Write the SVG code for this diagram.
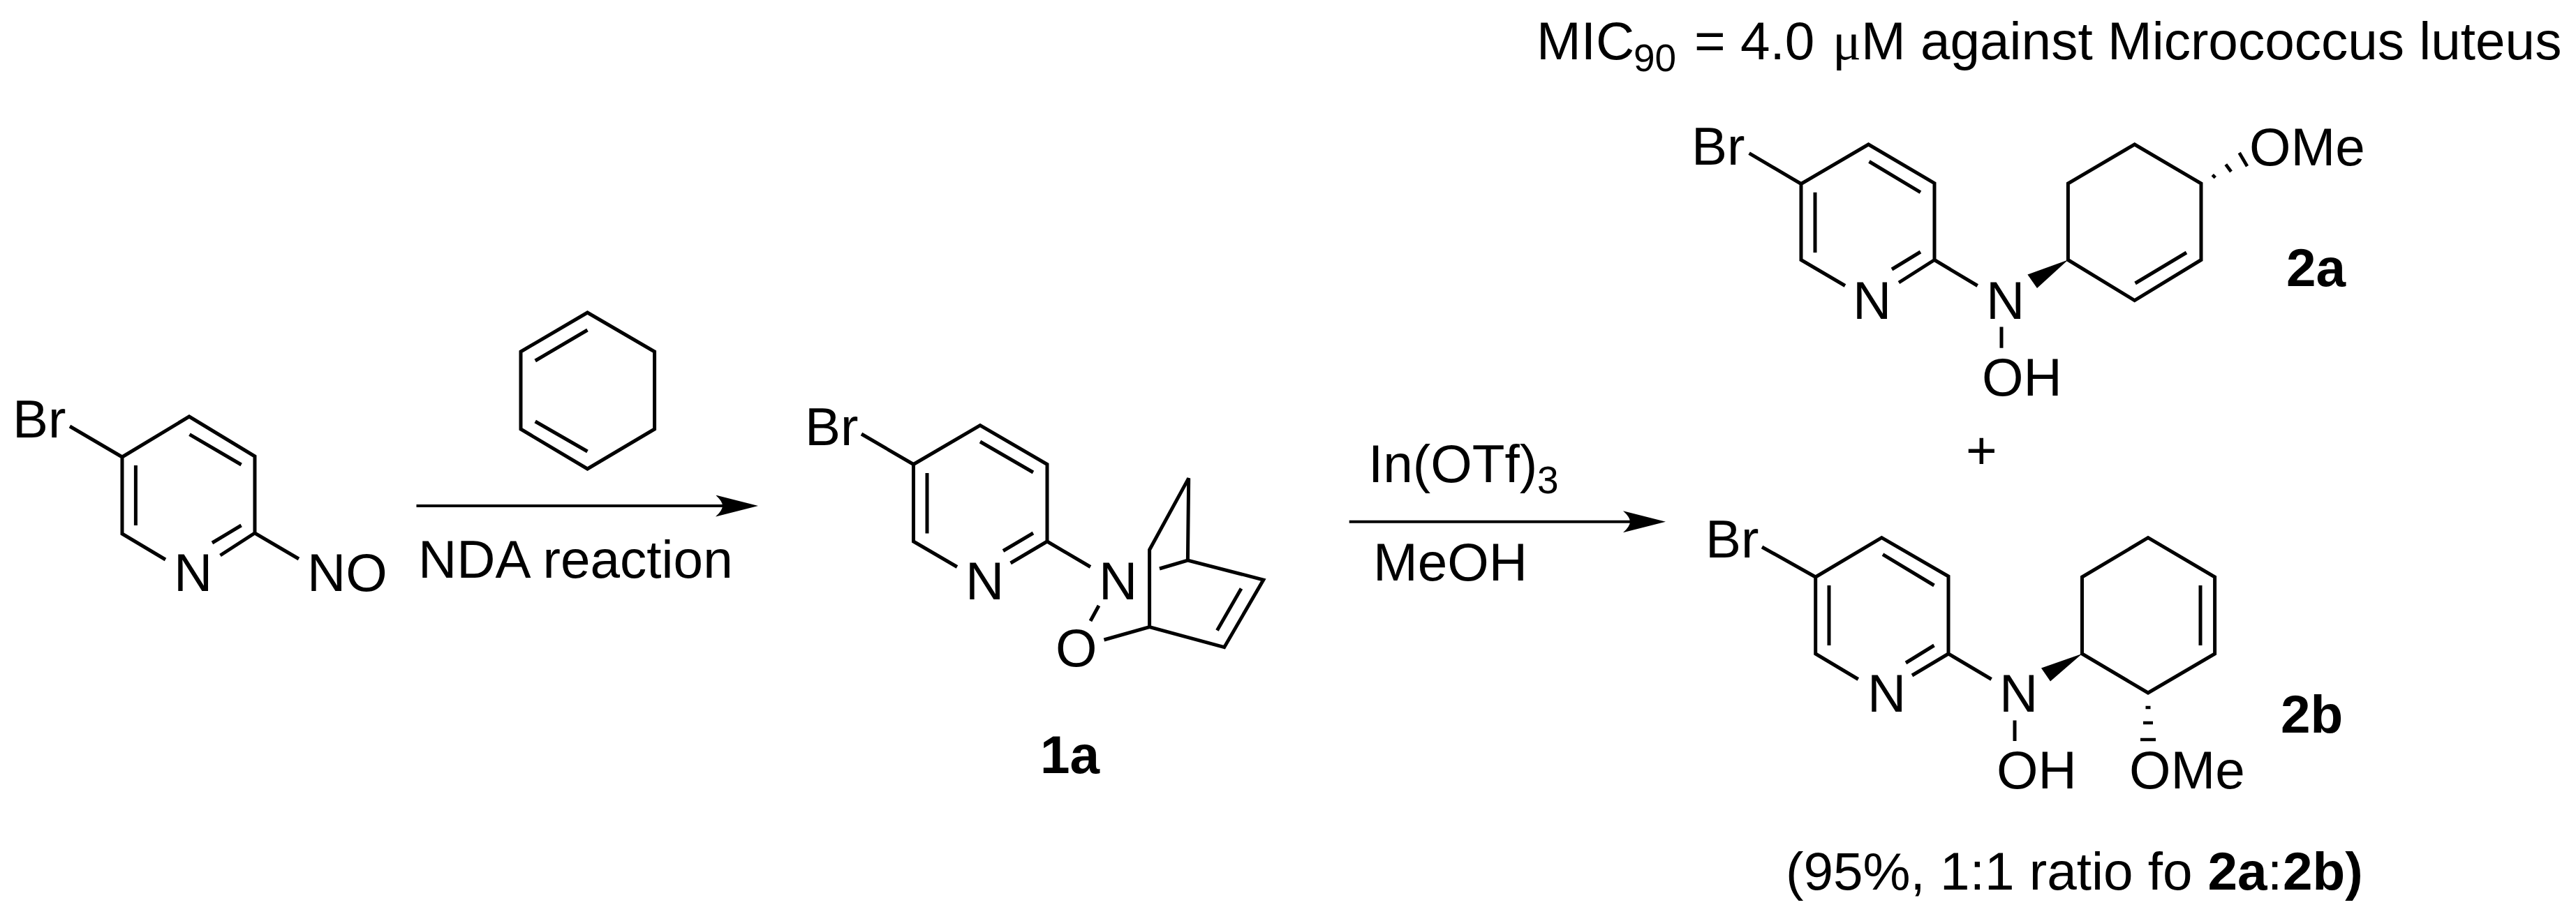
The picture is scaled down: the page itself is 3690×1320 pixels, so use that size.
<svg xmlns="http://www.w3.org/2000/svg" width="3690" height="1320" viewBox="0 0 3690 1320">
<style>
text{font-family:"Liberation Sans",Arial,sans-serif;font-size:76.500px;fill:#000}
.b{font-weight:bold}
.s{font-size:55px}
.bond{fill:none;stroke:#000;stroke-width:5;stroke-linecap:butt;stroke-linejoin:miter}
.hash{fill:none;stroke:#000;stroke-width:4.700}
.arr{fill:none;stroke:#000;stroke-width:4}
</style>
<defs>
<marker id="head" markerUnits="userSpaceOnUse" markerWidth="62" markerHeight="32" refX="31" refY="15.500" orient="auto"><path d="M0 0L61 15.500L0 31Q10 22 10 15.500Q10 9 0 0Z" fill="#000"/></marker>
</defs>
<rect width="3690" height="1320" fill="#fff"/>
<g id="nitroso">
<path class="bond" d="M100 611L175 655L271 597L365 654V764L315.500 796M365 764L428 801M175 655V765L237 802M271.500 622.700L345.600 666M194.400 667V753M304 778L345.600 753"/>
<text x="18" y="627">Br</text><text x="249" y="847">N</text><text x="440" y="847">NO</text>
</g>
<g id="cyclohexadiene">
<path class="bond" d="M841.500 448L937.600 504V615L841.500 672L746 615V504ZM766.700 517L841.500 473M766.700 604L841.500 647"/>
</g>
<g id="connectors">
<line class="arr" x1="596.500" y1="725" x2="1056" y2="725" marker-end="url(#head)"/>
<line class="arr" x1="1932.700" y1="747.700" x2="2356" y2="747.700" marker-end="url(#head)"/>
</g>
<g id="label-nda"><text x="599" y="828">NDA reaction</text></g>
<g id="compound-1a">
<path class="bond" d="M1234 622L1308.500 665.500L1404 609.600L1500 665.500V776L1447.600 807M1500 776L1562 812.500M1308.500 665.500V776L1371 812.500M1404 633L1480 677M1328 678V764.600M1437 789.500L1480 764M1574 868L1562 890M1581.500 917L1646.600 898.600L1753.700 927.700L1809.800 831L1701.400 803L1661 815M1701.400 803L1702.700 685.400L1646.600 788V898.600M1778 843.500L1743.500 903.600"/>
<text x="1153" y="638">Br</text><text x="1383" y="859">N</text><text x="1574" y="859">N</text><text x="1512" y="955">O</text>
<text class="b" x="1490" y="1108">1a</text>
</g>
<g id="label-in"><text x="1960" y="691">In(OTf)<tspan class="s" x="2202" y="707">3</tspan></text><text x="1967" y="832">MeOH</text></g>
<g id="compound-2a">
<path class="bond" d="M2505.600 219.700L2580 263.500L2676.500 207L2771 262.600V372.500L2720 405M2771 372.500L2832.700 409.500M2580 263.500V372.500L2643 409.500M2677.500 231.500L2751 275.700M2600 275.700V362M2710 386L2751 361M2867 468.400V498.700M2962.400 372.500V263L3057.700 207L3153 263V372.500L3057.700 430.600ZM3058.600 406L3132 362"/>
<path d="M2962.400 372.500L2904.400 393.500L2918 413Z" fill="#000"/>
<path class="hash" d="M3169.300 250.700L3173.300 254.700M3188.300 235.700L3196 246M3207.700 219L3219 238.300"/>
<text x="2423" y="236">Br</text><text x="2654" y="457">N</text><text x="2845" y="457">N</text><text x="2839" y="567">OH</text><text x="3222" y="237">OMe</text>
<text class="b" x="3275" y="410">2a</text>
</g>
<g id="plus"><text x="2816" y="672">+</text></g>
<g id="compound-2b">
<path class="bond" d="M2524 784L2600.700 827L2695.400 770.700L2791 826V937L2739 968M2791 937L2852.600 973.500M2600.700 827V937L2661.800 973.500M2697 794.700L2770.500 839M2620 839V925M2730 950L2770.500 925M2886 1032.500V1062M2982.500 937V827L3077 770.700L3172.600 827V937L3077 993ZM3152 839V925"/>
<path d="M2982.500 937L2924 957.600L2937 976.500Z" fill="#000"/>
<path class="hash" d="M3073.500 1014H3080.500M3070 1036H3084M3066 1060H3088"/>
<text x="2443" y="799">Br</text><text x="2675" y="1020">N</text><text x="2864" y="1020">N</text><text x="2860" y="1130">OH</text><text x="3050" y="1130">OMe</text>
<text class="b" x="3267" y="1050">2b</text>
</g>
<g id="label-mic"><text x="2201" y="85">MIC<tspan class="s" x="2340" y="102">90</tspan><tspan x="2427" y="85">=</tspan><tspan x="2493">4.0</tspan><tspan x="2625" style="font-family:'Liberation Serif',serif">μ</tspan><tspan x="2666">M against Micrococcus luteus</tspan></text></g>
<g id="label-yield"><text x="2558" y="1275">(95%, 1:1 ratio fo <tspan class="b" x="3162.500">2a</tspan><tspan x="3248">:</tspan><tspan class="b" x="3270">2b)</tspan></text></g>
</svg>
